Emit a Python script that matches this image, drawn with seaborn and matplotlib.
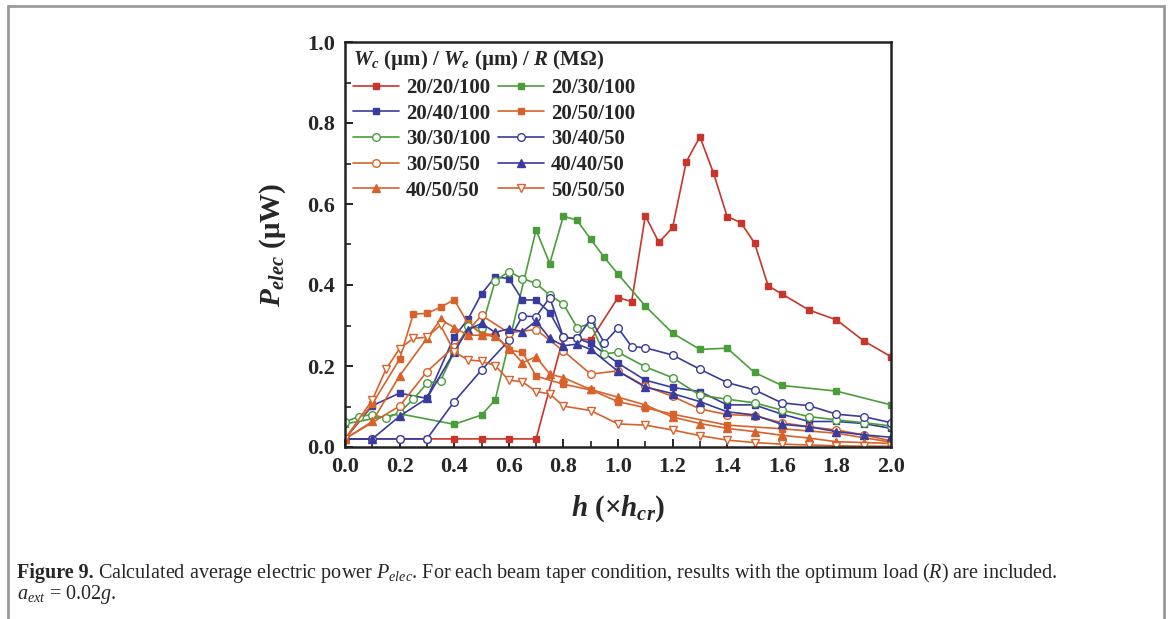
import numpy as np
import pandas as pd
import matplotlib
matplotlib.use("Agg")
import matplotlib.pyplot as plt
import seaborn as sns
from matplotlib.lines import Line2D
from matplotlib.ticker import MultipleLocator

# ---------------- data ----------------
labels = ["20/20/100", "20/30/100", "20/40/100", "20/50/100", "30/30/100",
          "30/40/50", "30/50/50", "40/40/50", "40/50/50", "50/50/50"]

h_2020100 = [0, 0.1, 0.2, 0.3, 0.4, 0.5, 0.6, 0.7, 0.8, 0.9, 1.0, 1.05, 1.1, 1.15, 1.2, 1.25,
             1.3, 1.35, 1.4, 1.45, 1.5, 1.55, 1.6, 1.7, 1.8, 1.9, 2.0]
p_2020100 = [0.02, 0.02, 0.02, 0.02, 0.02, 0.02, 0.02, 0.02, 0.271, 0.264, 0.369, 0.359, 0.571,
             0.505, 0.542, 0.704, 0.766, 0.676, 0.569, 0.554, 0.504, 0.398, 0.378, 0.338,
             0.314, 0.262, 0.223]

h_2030100 = [0, 0.2, 0.4, 0.5, 0.55, 0.7, 0.75, 0.8, 0.85, 0.9, 0.95, 1.0, 1.1, 1.2, 1.3, 1.4,
             1.5, 1.6, 1.8, 2.0]
p_2030100 = [0.057, 0.082, 0.056, 0.079, 0.116, 0.536, 0.453, 0.570, 0.560, 0.513, 0.468,
             0.427, 0.348, 0.281, 0.241, 0.244, 0.184, 0.152, 0.138, 0.104]

h_2040100 = [0, 0.1, 0.2, 0.3, 0.4, 0.45, 0.5, 0.55, 0.6, 0.65, 0.7, 0.75, 0.8, 0.85, 0.9, 1.0,
             1.1, 1.2, 1.3, 1.4, 1.5, 1.6, 1.7, 1.8, 1.9, 2.0]
p_2040100 = [0.02, 0.102, 0.133, 0.12, 0.272, 0.315, 0.378, 0.42, 0.416, 0.363, 0.363, 0.332,
             0.271, 0.268, 0.256, 0.207, 0.165, 0.147, 0.137, 0.104, 0.104, 0.081, 0.063,
             0.063, 0.058, 0.046]

h_2050100 = [0, 0.1, 0.2, 0.25, 0.3, 0.35, 0.4, 0.45, 0.5, 0.55, 0.6, 0.65, 0.7, 0.8, 0.9, 1.0,
             1.1, 1.2, 1.4, 1.6, 1.8, 2.0]
p_2050100 = [0.02, 0.106, 0.217, 0.328, 0.330, 0.345, 0.364, 0.305, 0.28, 0.277, 0.239, 0.234,
             0.175, 0.155, 0.141, 0.112, 0.097, 0.081, 0.054, 0.045, 0.034, 0.012]

h_3030100 = [0, 0.05, 0.1, 0.15, 0.2, 0.25, 0.3, 0.35, 0.4, 0.45, 0.5, 0.55, 0.6, 0.65, 0.7,
             0.75, 0.8, 0.85, 0.9, 0.95, 1.0, 1.1, 1.2, 1.3, 1.4, 1.5, 1.6, 1.7, 1.8, 1.9, 2.0]
p_3030100 = [0.062, 0.075, 0.080, 0.071, 0.085, 0.118, 0.157, 0.164, 0.235, 0.298, 0.293,
             0.41, 0.433, 0.416, 0.404, 0.375, 0.353, 0.295, 0.304, 0.23, 0.234, 0.198, 0.171,
             0.128, 0.118, 0.109, 0.091, 0.075, 0.067, 0.06, 0.052]

h_304050 = [0, 0.1, 0.2, 0.3, 0.4, 0.5, 0.6, 0.65, 0.7, 0.75, 0.8, 0.85, 0.9, 0.95, 1.0, 1.05,
            1.1, 1.2, 1.3, 1.4, 1.5, 1.6, 1.7, 1.8, 1.9, 2.0]
p_304050 = [0.02, 0.02, 0.02, 0.02, 0.112, 0.19, 0.263, 0.323, 0.322, 0.369, 0.271, 0.268,
            0.316, 0.257, 0.294, 0.248, 0.245, 0.227, 0.192, 0.159, 0.141, 0.109, 0.102,
            0.081, 0.075, 0.06]

h_305050 = [0, 0.2, 0.3, 0.4, 0.5, 0.6, 0.7, 0.8, 0.9, 1.0, 1.1, 1.2, 1.3, 1.4, 1.5, 1.6, 1.7,
            1.8, 1.9, 2.0]
p_305050 = [0.02, 0.101, 0.186, 0.248, 0.325, 0.282, 0.290, 0.237, 0.18, 0.188, 0.15, 0.125,
            0.094, 0.08, 0.077, 0.06, 0.05, 0.042, 0.03, 0.015]

h_404050 = [0, 0.1, 0.2, 0.3, 0.4, 0.45, 0.5, 0.55, 0.6, 0.65, 0.7, 0.75, 0.8, 0.85, 0.9, 1.0,
            1.1, 1.2, 1.3, 1.4, 1.5, 1.6, 1.7, 1.8, 1.9, 2.0]
p_404050 = [0.02, 0.02, 0.076, 0.12, 0.235, 0.29, 0.305, 0.283, 0.292, 0.285, 0.311, 0.268,
            0.25, 0.254, 0.241, 0.187, 0.148, 0.132, 0.112, 0.087, 0.079, 0.056, 0.05, 0.038,
            0.03, 0.024]

h_405050 = [0, 0.1, 0.2, 0.3, 0.35, 0.4, 0.45, 0.5, 0.55, 0.6, 0.65, 0.7, 0.75, 0.8, 0.9, 1.0,
            1.1, 1.2, 1.3, 1.4, 1.5, 1.6, 1.7, 1.8, 1.9, 2.0]
p_405050 = [0.02, 0.063, 0.176, 0.268, 0.315, 0.295, 0.276, 0.276, 0.274, 0.245, 0.208, 0.223,
            0.18, 0.171, 0.142, 0.123, 0.104, 0.074, 0.058, 0.046, 0.038, 0.029, 0.022, 0.013,
            0.011, 0.009]

h_505050 = [0, 0.1, 0.15, 0.2, 0.25, 0.3, 0.35, 0.4, 0.45, 0.5, 0.55, 0.6, 0.65, 0.7, 0.75,
            0.8, 0.9, 1.0, 1.1, 1.2, 1.3, 1.4, 1.5, 1.6, 1.7, 1.8, 1.9, 2.0]
p_505050 = [0.02, 0.116, 0.192, 0.243, 0.268, 0.271, 0.301, 0.235, 0.215, 0.212, 0.201, 0.165,
            0.161, 0.137, 0.131, 0.101, 0.09, 0.057, 0.054, 0.042, 0.028, 0.017, 0.011, 0.007,
            0.005, 0.003, 0.002, 0.002]

x_ticks = [0.0, 0.2, 0.4, 0.6, 0.8, 1.0, 1.2, 1.4, 1.6, 1.8, 2.0]
y_ticks = [0.0, 0.2, 0.4, 0.6, 0.8, 1.0]

series_h = [h_2020100, h_2030100, h_2040100, h_2050100, h_3030100,
            h_304050, h_305050, h_404050, h_405050, h_505050]
series_p = [p_2020100, p_2030100, p_2040100, p_2050100, p_3030100,
            p_304050, p_305050, p_404050, p_405050, p_505050]

# ---------------- styles ----------------
RED, GREEN, BLUE, ORANGE = "#c8352b", "#4a9e3a", "#3a3b9e", "#d8622a"
colors = [RED, GREEN, BLUE, ORANGE, GREEN, BLUE, ORANGE, BLUE, ORANGE, ORANGE]
markers = ["s", "s", "s", "s", "o", "o", "o", "^", "^", "v"]
filled = [True, True, True, True, False, False, False, True, True, False]

sns.set_theme(style="white")
plt.rcParams["font.family"] = ["Liberation Serif", "DejaVu Serif"]
plt.rcParams["font.weight"] = "bold"
plt.rcParams["mathtext.fontset"] = "custom"
plt.rcParams["mathtext.rm"] = "Liberation Serif:bold"
plt.rcParams["mathtext.bf"] = "Liberation Serif:bold"
plt.rcParams["mathtext.it"] = "Liberation Serif:italic:bold"
plt.rcParams["mathtext.sf"] = "Liberation Serif:style=italic:weight=normal"

W, H = 1170, 619
fig = plt.figure(figsize=(W / 100, H / 100), dpi=100)
fig.patch.set_facecolor("white")
ax = fig.add_axes([345 / W, 1 - 447 / H, (891 - 345) / W, (447 - 42) / H])

for lab, hh, pp, c, m, f in zip(labels, series_h, series_p, colors, markers, filled):
    df = pd.DataFrame({"h": hh, "P": pp})
    ms = 4.5 if m == "s" else 5.5
    sns.lineplot(data=df, x="h", y="P", ax=ax, color=c, lw=1.2, marker=m,
                 markersize=ms, markerfacecolor=(c if f else "white"),
                 markeredgecolor=c, markeredgewidth=1.0, label=lab,
                 estimator=None, sort=False)

ax.set_xlim(0, 2.0)
ax.set_ylim(0, 1.0)
ax.set_xticks(x_ticks)
ax.set_yticks(y_ticks)
ax.set_xticklabels([f"{v:.1f}" for v in x_ticks])
ax.set_yticklabels([f"{v:.1f}" for v in y_ticks])
ax.xaxis.set_minor_locator(MultipleLocator(0.1))
ax.yaxis.set_minor_locator(MultipleLocator(0.1))
ax.tick_params(which="major", direction="in", length=6, width=1.4, labelsize=16,
               pad=7, bottom=True, left=True, top=False, right=False, color="#222222")
ax.tick_params(which="minor", direction="in", length=4, width=1.2,
               bottom=True, left=True, top=False, right=False, color="#222222")
for lbl in ax.get_xticklabels() + ax.get_yticklabels():
    lbl.set_fontweight("bold")
for sp in ax.spines.values():
    sp.set_linewidth(1.8)
    sp.set_color("#222222")

ax.set_xlabel(r"$h$ ($\times h_{cr}$)", fontsize=21, fontweight="bold", labelpad=12)
ax.set_ylabel(r"$P_{elec}$ ($\mathrm{\mu}$W)", fontsize=21, fontweight="bold", labelpad=14)

# legend: fill row-wise in 2 columns
hl, ll = ax.get_legend_handles_labels()
order = [0, 2, 4, 6, 8, 1, 3, 5, 7, 9]
leg = ax.legend([hl[i] for i in order], [ll[i] for i in order], ncol=2,
                loc="upper left", bbox_to_anchor=(-0.012, 1.02), frameon=False,
                title=r"$W_c$ (µm) / $W_e$ (µm) / $R$ (MΩ)",
                prop={"weight": "bold", "size": 15},
                title_fontproperties={"weight": "bold", "size": 15},
                handlelength=2.2, handletextpad=0.35, columnspacing=0.35,
                labelspacing=0.27, borderaxespad=0.3)
leg._legend_box.align = "left"

# figure frame (page border)
fig.add_artist(Line2D([7.5 / W, 7.5 / W], [0, 1 - 5.5 / H], transform=fig.transFigure,
                      color="#9a9a9a", lw=2))
fig.add_artist(Line2D([7.5 / W, 1163.5 / W], [1 - 5.5 / H, 1 - 5.5 / H],
                      transform=fig.transFigure, color="#9a9a9a", lw=2))
fig.add_artist(Line2D([1163.5 / W, 1163.5 / W], [0, 1 - 5.5 / H], transform=fig.transFigure,
                      color="#9a9a9a", lw=2))

# caption
fig.canvas.draw()
r = fig.canvas.get_renderer()
t1 = fig.text(17 / W, 1 - 573 / H, "Figure 9.", fontsize=14.5, fontweight="bold",
              va="center", ha="left")
bb = t1.get_window_extent(renderer=r)
fig.text((bb.x1 + 4) / W, 1 - 573 / H,
         r"Calculated average electric power $\mathsf{P}_{\mathsf{elec}}$. For each beam taper "
         r"condition, results with the optimum load ($\mathsf{R}$) are included.",
         fontsize=14.5, fontweight="normal", va="center", ha="left")
fig.text(17 / W, 1 - 595 / H, r"$\mathsf{a}_{\mathsf{ext}}$ = 0.02$\mathsf{g}$.",
         fontsize=14.5, fontweight="normal", va="center", ha="left")

fig.savefig("out.png", dpi=100, facecolor="white")
